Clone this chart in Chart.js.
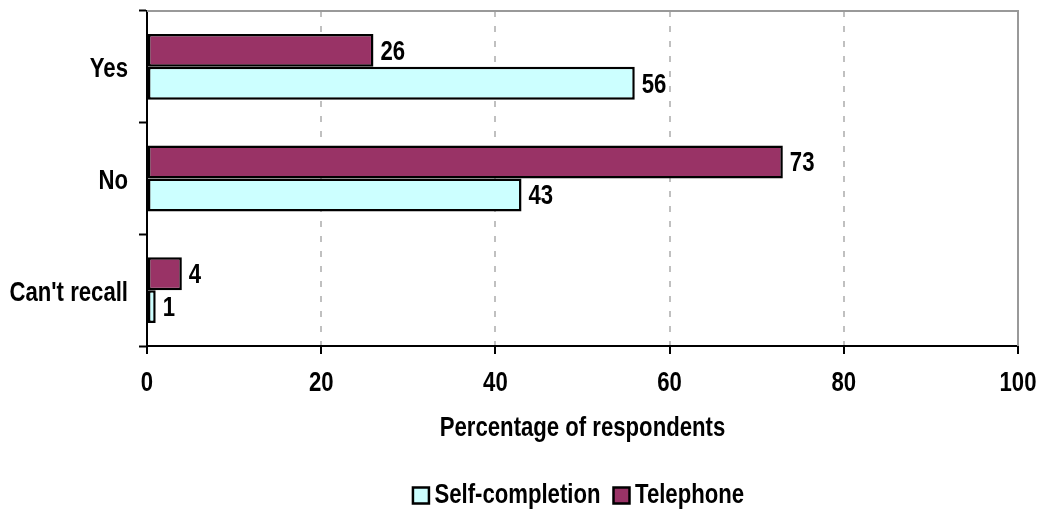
<!DOCTYPE html>
<html>
<head>
<meta charset="utf-8">
<style>
  html, body { margin: 0; padding: 0; background: #ffffff; }
  #wrap { width: 1042px; height: 511px; }
</style>
<script src="https://cdn.jsdelivr.net/npm/chart.js@4.4.1/dist/chart.umd.min.js"></script>
</head>
<body>
<div id="wrap"><canvas id="chart" width="1042" height="511"></canvas></div>
<script>
// Survey answers by interview mode (percentage of respondents)
const categories = ["Yes", "No", "Can't recall"];
const telephone = [26, 73, 4];
const selfCompletion = [56, 43, 1];
const xTicks = [0, 20, 40, 60, 80, 100];

const FONT = "'Liberation Sans', Arial, sans-serif";
const FONT_SIZE = 27;
const NARROW = 0.82;   // horizontal squeeze that turns Arial-metric bold into a narrow face

const PLOT_LEFT = 147;
const X_AXIS_HEIGHT = 131;
const PAD_BOTTOM = -8;
const LEGEND_TEXT_SHIFT = -8;  // tighter gap between legend swatch and its text

const canvas = document.getElementById('chart');
const ctx2d = canvas.getContext('2d');
let textShiftX = 0;

// Condensed text: every string is drawn squeezed around its anchor point,
// and measured with the same factor so the layout stays consistent.
(function condenseText(ctx, k) {
  const fill = ctx.fillText.bind(ctx);
  const stroke = ctx.strokeText.bind(ctx);
  const measure = ctx.measureText.bind(ctx);
  ctx.fillText = function (t, x, y, maxW) {
    ctx.save();
    ctx.translate(x + textShiftX, y);
    ctx.scale(k, 1);
    if (maxW !== undefined) fill(t, 0, 0, maxW / k); else fill(t, 0, 0);
    ctx.restore();
  };
  ctx.strokeText = function (t, x, y, maxW) {
    ctx.save();
    ctx.translate(x + textShiftX, y);
    ctx.scale(k, 1);
    if (maxW !== undefined) stroke(t, 0, 0, maxW / k); else stroke(t, 0, 0);
    ctx.restore();
  };
  ctx.measureText = function (t) {
    const m = measure(t);
    return {
      width: m.width * k,
      actualBoundingBoxLeft: m.actualBoundingBoxLeft * k,
      actualBoundingBoxRight: m.actualBoundingBoxRight * k,
      actualBoundingBoxAscent: m.actualBoundingBoxAscent,
      actualBoundingBoxDescent: m.actualBoundingBoxDescent,
      fontBoundingBoxAscent: m.fontBoundingBoxAscent,
      fontBoundingBoxDescent: m.fontBoundingBoxDescent
    };
  };
})(ctx2d, NARROW);

// Value labels at the end of each bar
const valueLabels = {
  id: 'valueLabels',
  afterDatasetsDraw(chart) {
    const ctx = chart.ctx;
    ctx.save();
    ctx.font = 'bold ' + FONT_SIZE + 'px ' + FONT;
    ctx.fillStyle = '#000';
    ctx.textAlign = 'left';
    ctx.textBaseline = 'middle';
    chart.data.datasets.forEach((ds, i) => {
      chart.getDatasetMeta(i).data.forEach((bar, j) => {
        ctx.fillText(String(ds.data[j]), bar.x + 7, bar.y + 2);
      });
    });
    ctx.restore();
  }
};

// Grey frame on the top and right of the plot area
const plotFrame = {
  id: 'plotFrame',
  beforeDatasetsDraw(chart) {
    const { ctx, chartArea: a } = chart;
    ctx.save();
    ctx.strokeStyle = '#999999';
    ctx.lineWidth = 2;
    ctx.beginPath();
    ctx.moveTo(a.left, a.top);
    ctx.lineTo(a.right, a.top);
    ctx.lineTo(a.right, a.bottom);
    ctx.stroke();
    ctx.restore();
  }
};

const textFont = { family: FONT, size: FONT_SIZE, weight: 'bold', lineHeight: 1.2 };

const chart = new Chart(canvas, {
  type: 'bar',
  data: {
    labels: categories,
    datasets: [
      {
        label: 'Telephone',
        data: telephone,
        backgroundColor: '#993366',
        borderColor: '#000000',
        borderWidth: 2.5,
        borderSkipped: false,
        categoryPercentage: 0.59,
        barPercentage: 1.0
      },
      {
        label: 'Self-completion',
        data: selfCompletion,
        backgroundColor: '#ccffff',
        borderColor: '#000000',
        borderWidth: 2.5,
        borderSkipped: false,
        categoryPercentage: 0.59,
        barPercentage: 1.0
      }
    ]
  },
  options: {
    indexAxis: 'y',
    responsive: false,
    animation: false,
    layout: { padding: { top: 11, right: 24, bottom: PAD_BOTTOM, left: 0 } },
    plugins: {
      legend: {
        position: 'bottom',
        fullSize: false,
        reverse: true,
        labels: {
          font: textFont,
          color: '#000',
          boxWidth: 16,
          boxHeight: 16,
          padding: 5
        }
      },
      tooltip: { enabled: false }
    },
    scales: {
      x: {
        min: 0,
        max: 100,
        afterBuildTicks(scale) {
          scale.ticks = xTicks.map(v => ({ value: v }));
        },
        afterFit(scale) {
          scale.height = X_AXIS_HEIGHT;
          scale.paddingLeft = 0;
          scale.paddingRight = 0;
        },
        border: { display: true, color: '#000', width: 2, dash: [6, 9] },
        grid: {
          color: ctx => (ctx.tick && (ctx.tick.value === 0 || ctx.tick.value === 100)) ? 'rgba(0,0,0,0)' : '#c0c0c0',
          lineWidth: 2,
          tickColor: '#000',
          tickLength: 8,
          tickWidth: 2,
          tickBorderDash: [],
          drawTicks: true
        },
        ticks: {
          font: textFont,
          color: '#000',
          padding: 13,
          maxRotation: 0
        },
        title: {
          display: true,
          text: 'Percentage of respondents',
          font: textFont,
          color: '#000',
          padding: { top: 8, bottom: 32 }
        }
      },
      y: {
        afterFit(scale) {
          scale.width = PLOT_LEFT;
          scale.paddingTop = 0;
          scale.paddingBottom = 0;
        },
        border: { display: true, color: '#000', width: 2 },
        grid: {
          offset: true,
          drawOnChartArea: false,
          drawTicks: true,
          tickLength: 8,
          tickColor: '#000',
          tickWidth: 2
        },
        ticks: {
          font: textFont,
          color: '#000',
          padding: 11,
          labelOffset: 3
        }
      }
    }
  },
  plugins: [plotFrame, valueLabels]
});

// Legend text sits closer to its swatch
const legendDraw = chart.legend.draw;
chart.legend.draw = function () {
  textShiftX = LEGEND_TEXT_SHIFT;
  try { legendDraw.apply(this, arguments); } finally { textShiftX = 0; }
};
chart.draw();
</script>
</body>
</html>
